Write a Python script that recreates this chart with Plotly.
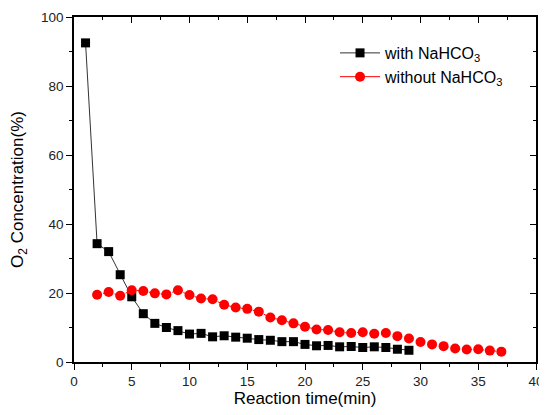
import plotly.graph_objects as go

x_with = list(range(1, 30))
y_with = [92.5, 34.3, 32.0, 25.3, 18.9, 14.0, 11.2, 10.0, 9.1, 8.1,
          8.3, 7.3, 7.6, 7.2, 6.9, 6.5, 6.3, 5.9, 5.9, 5.1,
          4.7, 4.8, 4.4, 4.5, 4.2, 4.4, 4.2, 3.7, 3.4]

x_without = list(range(2, 38))
y_without = [19.5, 20.3, 19.2, 20.8, 20.6, 19.9, 19.6, 20.8, 19.4, 18.4,
             18.2, 16.6, 15.8, 15.4, 14.6, 12.9, 12.1, 11.2, 10.2, 9.4,
             9.3, 8.6, 8.4, 8.6, 8.2, 8.4, 7.5, 6.8, 5.8, 5.1,
             4.6, 3.9, 3.6, 3.7, 3.3, 3.0]

x_ticks = [0, 5, 10, 15, 20, 25, 30, 35, 40]
y_ticks = [0, 20, 40, 60, 80, 100]

FONT = "Liberation Sans, Arial, sans-serif"

fig = go.Figure()
fig.add_trace(go.Scatter(
    x=x_with, y=y_with, mode="lines+markers",
    name="with NaHCO<sub>3</sub>",
    line=dict(color="#333333", width=1),
    marker=dict(symbol="square", size=9, color="black"),
))
fig.add_trace(go.Scatter(
    x=x_without, y=y_without, mode="lines+markers",
    name="without NaHCO<sub>3</sub>", showlegend=False,
    line=dict(color="red", width=1, dash="dot"),
    marker=dict(symbol="circle", size=10, color="red"),
))
# legend entry for red series (solid line sample, as in reference)
fig.add_trace(go.Scatter(
    x=[None], y=[None], mode="lines+markers",
    name="without NaHCO<sub>3</sub>",
    line=dict(color="red", width=1),
    marker=dict(symbol="circle", size=10, color="red"),
))
# invisible trace to activate mirror axes
fig.add_trace(go.Scatter(x=[0], y=[0], xaxis="x2", yaxis="y2",
                         mode="markers", marker=dict(opacity=0),
                         showlegend=False, hoverinfo="skip"))

common = dict(showgrid=False, zeroline=False, linecolor="black", linewidth=1.5,
              tickcolor="black", ticklen=6, tickwidth=1.2)

fig.update_layout(
    width=539, height=407,
    margin=dict(l=66, r=11, t=9, b=53, autoexpand=False),
    paper_bgcolor="white", plot_bgcolor="white",
    font=dict(family=FONT, size=13.5, color="black"),
    showlegend=True,
    legend=dict(x=0.565, y=0.945, xanchor="left", yanchor="top",
                bgcolor="rgba(0,0,0,0)", font=dict(size=16, family=FONT),
                itemwidth=40, tracegroupgap=0),
    xaxis=dict(range=[0, 40], tickvals=x_ticks, ticks="outside",
               minor=dict(dtick=2.5, ticks="outside", ticklen=3, tickcolor="black"),
               title=dict(text="Reaction time(min)", font=dict(size=17), standoff=4),
               tickfont=dict(size=13.5, color="#222"), automargin=False, **common),
    yaxis=dict(range=[0, 100], tickvals=y_ticks, ticks="outside",
               minor=dict(dtick=10, ticks="outside", ticklen=3, tickcolor="black"),
               title=dict(text="O<sub>2</sub> Concentration(%)", font=dict(size=17), standoff=14),
               tickfont=dict(size=13.5, color="#222"), automargin=False, **common),
    xaxis2=dict(range=[0, 40], overlaying="x", side="top", tickvals=x_ticks,
                ticks="inside", showticklabels=False,
                minor=dict(dtick=2.5, ticks="inside", ticklen=3, tickcolor="black"),
                **common),
    yaxis2=dict(range=[0, 100], overlaying="y", side="right", tickvals=y_ticks,
                ticks="inside", showticklabels=False,
                minor=dict(dtick=10, ticks="inside", ticklen=3, tickcolor="black"),
                **common),
)

fig.write_html("out.html")
